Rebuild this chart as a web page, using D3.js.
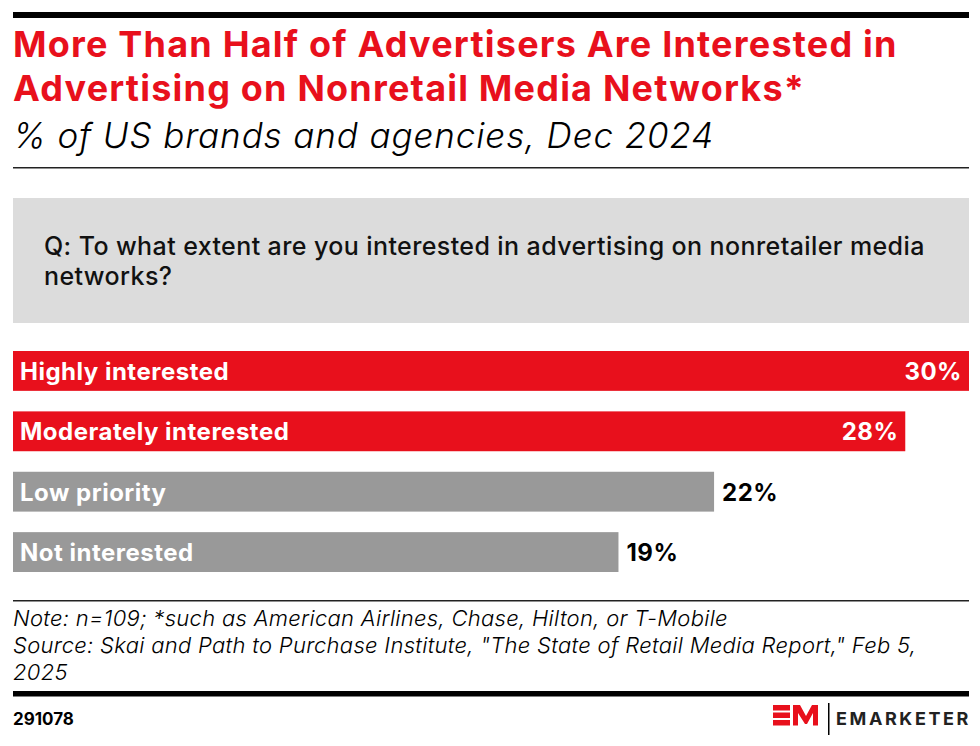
<!DOCTYPE html>
<html>
<head>
<meta charset="utf-8">
<script src="https://cdn.jsdelivr.net/npm/d3@7"></script>
<style>
  body { margin: 0; background: #fff; }
  svg { display: block; font-family: Inter, "Noto Sans", sans-serif; }
</style>
</head>
<body>
<div id="chart"></div>
<script>
// Chart data
const categories = ["Highly interested", "Moderately interested", "Low priority", "Not interested"];
const values = [30, 28, 22, 19];
const highlighted = [true, true, false, false];

const titleLines = ["More Than Half of Advertisers Are Interested in", "Advertising on Nonretail Media Networks*"];
const subtitle = "% of US brands and agencies, Dec 2024";
const questionLines = ["Q: To what extent are you interested in advertising on nonretailer media", "networks?"];
const noteLines = [
  "Note: n=109; *such as American Airlines, Chase, Hilton, or T-Mobile",
  "Source: Skai and Path to Purchase Institute, \"The State of Retail Media Report,\" Feb 5,",
  "2025"
];
const chartId = "291078";

const width = 980, height = 746;
const left = 13, right = 969;
const red = "#e8101c", gray = "#999999";

const svg = d3.select("#chart")
  .append("svg")
  .attr("width", width)
  .attr("height", height);

// Top thick rule
svg.append("rect")
  .attr("x", left).attr("y", 12)
  .attr("width", right - left).attr("height", 6)
  .attr("fill", "#000");

// Title
svg.append("g")
  .selectAll("text")
  .data(titleLines)
  .join("text")
  .attr("x", left)
  .attr("y", (d, i) => 57 + i * 44)
  .attr("fill", red)
  .attr("font-size", "36px")
  .attr("font-weight", 700)
  .attr("letter-spacing", "1.2px")
  .text(d => d);

svg.append("text")
  .attr("x", left)
  .attr("y", 148)
  .attr("font-size", "35px")
  .attr("font-style", "italic")
  .attr("font-weight", 300)
  .attr("letter-spacing", "0.9px")
  .attr("fill", "#000")
  .text(subtitle);

svg.append("rect")
  .attr("x", left).attr("y", 167)
  .attr("width", right - left).attr("height", 1.5)
  .attr("fill", "#222");

// Question box
svg.append("rect")
  .attr("x", left).attr("y", 198)
  .attr("width", right - left).attr("height", 125)
  .attr("fill", "#dcdcdc");

svg.append("g")
  .selectAll("text")
  .data(questionLines)
  .join("text")
  .attr("x", 44)
  .attr("y", (d, i) => 255 + i * 30)
  .attr("font-size", "25px")
  .attr("font-weight", 500)
  .attr("letter-spacing", "0.4px")
  .attr("fill", "#111")
  .text(d => d);

// Bars
const x = d3.scaleLinear()
  .domain([0, d3.max(values)])
  .range([left, right]);

const y = d3.scaleBand()
  .domain(categories)
  .range([351, 572])
  .paddingInner(0.34)
  .paddingOuter(0);

const rows = categories.map((c, i) => ({ cat: c, val: values[i], hi: highlighted[i] }));

const bar = svg.append("g")
  .selectAll("g")
  .data(rows)
  .join("g")
  .attr("transform", d => `translate(0,${y(d.cat)})`);

bar.append("rect")
  .attr("x", x(0))
  .attr("width", d => x(d.val) - x(0))
  .attr("height", y.bandwidth())
  .attr("fill", d => d.hi ? red : gray);

bar.append("text")
  .attr("x", x(0) + 7)
  .attr("y", y.bandwidth() / 2 + 9)
  .attr("font-size", "24px")
  .attr("font-weight", 700)
  .attr("letter-spacing", "0.5px")
  .attr("fill", "#fff")
  .text(d => d.cat);

bar.append("text")
  .attr("x", d => d.hi ? x(d.val) - 7 : x(d.val) + 8)
  .attr("y", y.bandwidth() / 2 + 9)
  .attr("text-anchor", d => d.hi ? "end" : "start")
  .attr("font-size", "24px")
  .attr("font-weight", 700)
  .attr("letter-spacing", "0.5px")
  .attr("fill", d => d.hi ? "#fff" : "#000")
  .text(d => d.val + "%");

// Footer
svg.append("rect")
  .attr("x", left).attr("y", 600)
  .attr("width", right - left).attr("height", 1.5)
  .attr("fill", "#222");

svg.append("g")
  .selectAll("text")
  .data(noteLines)
  .join("text")
  .attr("x", left)
  .attr("y", (d, i) => 626 + i * 27)
  .attr("font-size", "22px")
  .attr("font-style", "italic")
  .attr("font-weight", 300)
  .attr("letter-spacing", "0.3px")
  .attr("fill", "#000")
  .text(d => d);

svg.append("rect")
  .attr("x", left).attr("y", 691)
  .attr("width", right - left).attr("height", 5.5)
  .attr("fill", "#000");

svg.append("text")
  .attr("x", left)
  .attr("y", 725)
  .attr("font-size", "17px")
  .attr("font-weight", 700)
  .attr("fill", "#000")
  .text(chartId);

// Logo
const logo = svg.append("g").attr("transform", "translate(773,705)");
[0, 7.5, 15].forEach(dy => {
  logo.append("rect").attr("x", 0).attr("y", dy).attr("width", 17).attr("height", 5.5).attr("fill", red);
});
logo.append("path")
  .attr("d", "M20,20.5 L20,0 L27,0 L33,11 L39,0 L45,0 L45,20.5 L40,20.5 L40,8 L34,19 L32,19 L25,8 L25,20.5 Z")
  .attr("fill", red);
logo.append("rect").attr("x", 55).attr("y", -2).attr("width", 1.5).attr("height", 32).attr("fill", "#000");
logo.append("text")
  .attr("x", 63)
  .attr("y", 20)
  .attr("font-size", "18px")
  .attr("font-weight", 700)
  .attr("letter-spacing", "2.6px")
  .attr("fill", "#222")
  .text("EMARKETER");
</script>
</body>
</html>
